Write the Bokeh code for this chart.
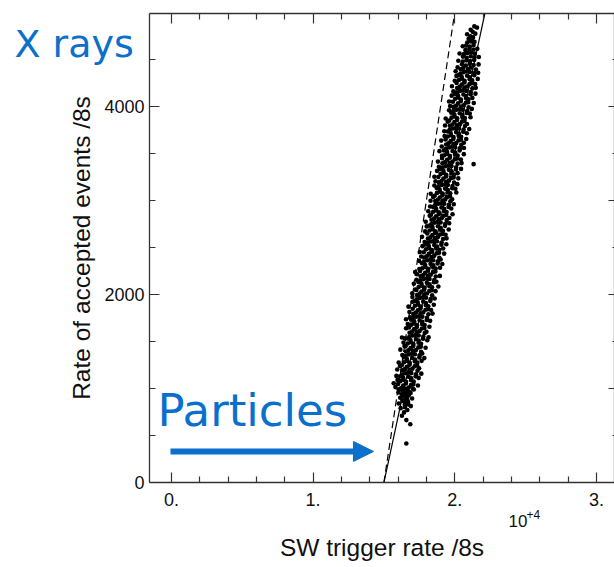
from bokeh.plotting import figure
from bokeh.models import (Range1d, LinearAxis, FixedTicker, Label, Arrow, NormalHead,
                          CustomJSTickFormatter)
from bokeh.embed import file_html
from bokeh.resources import INLINE

# ---------------- data ----------------
# SW trigger rate per 8 s (x) and rate of accepted events per 8 s (y)
sw_rate = [
    16580, 16860, 16580, 16270, 16420, 16650, 16180, 16900, 16470, 16050, 16700, 16300, 16560,
    16990, 16150, 16420, 16750, 16260, 16590, 16880, 16020, 16360, 16520, 16690, 16180, 17050,
    16480, 16720, 16480, 16650, 16600, 16300, 16450, 16780, 16420, 16300,
    16040, 16220, 16550, 16750, 17110, 15810,
    16000, 16360, 16550, 16910, 17080, 17400, 15690,
    16160, 16380, 16560, 16920, 17100, 15960,
    16140, 16350, 16740, 16930, 17240, 17450, 15880,
    16280, 16500, 16720, 16930, 17260, 17640,
    16300, 16480, 16810, 17010, 17370, 15940, 17480,
    16260, 16620, 16810, 17170, 17340, 16130,
    16420, 16640, 16820, 17180, 17360, 16040, 17660,
    16400, 16610, 17000, 17190, 17500, 17850,
    16540, 16760, 16980, 17190, 17520, 16300, 17700,
    16550, 16730, 17060, 17260, 17620, 16160,
    16520, 16880, 17070, 17430, 17600, 17940, 16450,
    16680, 16900, 17080, 17440, 17620, 16380,
    16660, 16870, 17260, 17450, 17760, 18060, 16480,
    16800, 17020, 17240, 17450, 17780, 16270, 18150,
    16810, 16990, 17320, 17520, 17880, 18000,
    16770, 17130, 17320, 17680, 17850, 16560, 18210,
    16930, 17150, 17330, 17690, 17870, 16680,
    16920, 17130, 17520, 17710, 18020, 18260, 16560,
    17060, 17280, 17500, 17710, 18040, 16850,
    17070, 17250, 17580, 17780, 18140, 18430, 16800,
    17030, 17390, 17580, 17940, 18110, 18330,
    17190, 17410, 17590, 17950, 18130, 16730, 18520,
    17170, 17380, 17770, 17960, 18270, 17020,
    17320, 17540, 17760, 17970, 18300, 18580, 17010,
    17330, 17510, 17840, 18040, 18400, 17000,
    17290, 17650, 17840, 18200, 18370, 18640, 17190,
    17450, 17670, 17850, 18210, 18390, 18840,
    17430, 17640, 18030, 18220, 18530, 17110, 18700,
    17570, 17790, 18010, 18220, 18550, 17300,
    17590, 17770, 18100, 18300, 18660, 18950, 17340,
    17550, 17910, 18100, 18460, 18630, 17200,
    17710, 17930, 18110, 18470, 18650, 18960, 17500,
    17690, 17900, 18290, 18480, 18790, 19120,
    17830, 18050, 18270, 18480, 18810, 17480, 19000,
    17840, 18020, 18350, 18550, 18910, 17630,
    17810, 18170, 18360, 18720, 18890, 19250, 17530,
    17970, 18190, 18370, 18730, 18910, 19180,
    17950, 18160, 18550, 18740, 19050, 17720, 19400,
    18090, 18310, 18530, 18740, 19070, 17870,
    18100, 18280, 18610, 18810, 19170, 19420, 17690,
    18060, 18420, 18610, 18970, 19140, 19350,
    18220, 18440, 18620, 18980, 19160, 17910, 19570,
    18210, 18420, 18810, 19000, 19310, 18020,
    18350, 18570, 18790, 19000, 19330, 19610, 17950,
    18360, 18540, 18870, 19070, 19430, 19620,
    18320, 18680, 18870, 19230, 19400, 18230, 19840,
    18480, 18700, 18880, 19240, 19420, 18130,
    18460, 18670, 19060, 19250, 19560, 19750, 18260,
    18610, 18830, 19050, 19260, 19590, 19930,
    18620, 18800, 19130, 19330, 19690, 18290, 19810,
    18580, 18940, 19130, 19490, 19660, 18470,
    18740, 18960, 19140, 19500, 19680, 20110, 18300,
    18720, 18930, 19320, 19510, 19820, 20040,
    18860, 19080, 19300, 19510, 19840, 18560, 20180,
    18880, 19060, 19390, 19590, 19950, 18640,
    18840, 19200, 19390, 19750, 19920, 20250, 18560,
    19000, 19220, 19400, 19760, 19940, 20200,
    18980, 19190, 19580, 19770, 20080, 18750, 20440,
    19120, 19340, 19560, 19770, 20100, 18880, 21330,
    19130, 19310, 19640, 19840, 20200, 20480, 18810,
    19100, 19460, 19650, 20010, 20180, 20430,
    19260, 19480, 19660, 20020, 20200, 19100, 20640,
    19240, 19450, 19840, 20030, 20340, 18920,
    19380, 19600, 19820, 20030, 20360, 20650, 19080,
    19390, 19570, 19900, 20100, 20460, 20640,
    19350, 19710, 19900, 20260, 20430, 19040, 20810,
    19510, 19730, 19910, 20270, 20450, 19280,
    19500, 19710, 20100, 20290, 20600, 20850, 19260,
    19640, 19860, 20080, 20290, 20620, 21020,
    19650, 19830, 20160, 20360, 20720, 19310, 20860,
    19610, 19970, 20160, 20520, 20690, 19500,
    19770, 19990, 20170, 20530, 20710, 21110, 19360,
    19750, 19960, 20350, 20540, 20850, 21060,
    19900, 20120, 20340, 20550, 20880, 19600, 21200,
    19910, 20090, 20420, 20620, 20980, 19670,
    19870, 20230, 20420, 20780, 20950, 21340, 19600,
    20030, 20250, 20430, 20790, 20970, 21240,
    20010, 20220, 20610, 20800, 21110, 19780, 21460,
    20150, 20370, 20590, 20800, 21130, 19900,
    20170, 20350, 20680, 20880, 21240, 21480, 19800,
    20130, 20490, 20680, 21040, 21210, 21440,
    20290, 20510, 20690, 21050, 21230, 20000, 21620,
    20270, 20480, 20870, 21060, 21370, 20120,
    20410, 20630, 20850, 21060, 21390, 21650, 20060,
    20420, 20600, 20930, 21130, 21490, 20200,
    20510, 20780, 21060, 21330, 21680,
    20560, 20830, 21080, 21370, 20250,
    20580, 20840, 21130, 21390, 21700,
    20650, 20890, 21150, 21420, 20340,
    20750, 21020, 21310, 21590,
    20800, 21060, 21330, 20560,
    20880, 21150, 21390, 21220,
    20980, 21290, 21100,
    20870, 21450, 21260, 21120, 21570, 21380,
]
accepted = [
    414, 620, 663, 709, 745, 770, 790, 812, 826, 840, 855, 868, 879,
    893, 901, 912, 925, 934, 942, 951, 958, 966, 973, 981, 989, 995,
    800, 830, 860, 880, 905, 920, 947, 962, 985, 998,
    992, 1005, 997, 1009, 989, 1014,
    1047, 1030, 1052, 1036, 1043, 1031, 1055,
    1078, 1091, 1071, 1086, 1074, 1089,
    1130, 1115, 1124, 1108, 1128, 1112, 1133,
    1148, 1162, 1168, 1163, 1151, 1157,
    1192, 1205, 1197, 1209, 1189, 1201, 1214,
    1247, 1230, 1252, 1236, 1243, 1238,
    1278, 1291, 1271, 1286, 1274, 1275, 1293,
    1330, 1315, 1324, 1308, 1328, 1322,
    1348, 1362, 1368, 1363, 1351, 1356, 1371,
    1392, 1405, 1397, 1409, 1389, 1412,
    1447, 1430, 1452, 1436, 1443, 1433, 1450,
    1478, 1491, 1471, 1486, 1474, 1488,
    1530, 1515, 1524, 1508, 1528, 1512, 1533,
    1548, 1562, 1568, 1563, 1551, 1541, 1544,
    1592, 1605, 1597, 1609, 1589, 1603,
    1647, 1630, 1652, 1636, 1643, 1639, 1655,
    1678, 1691, 1671, 1686, 1674, 1684,
    1730, 1715, 1724, 1708, 1728, 1718, 1735,
    1748, 1762, 1768, 1763, 1751, 1757,
    1792, 1805, 1797, 1809, 1789, 1795, 1811,
    1847, 1830, 1852, 1836, 1843, 1834,
    1878, 1891, 1871, 1886, 1874, 1869, 1890,
    1930, 1915, 1924, 1908, 1928, 1922,
    1948, 1962, 1968, 1963, 1951, 1956, 1972,
    1992, 2005, 1997, 2009, 1989, 2012,
    2047, 2030, 2052, 2036, 2043, 2034, 2051,
    2078, 2091, 2071, 2086, 2074, 2083,
    2130, 2115, 2124, 2108, 2128, 2112, 2133,
    2148, 2162, 2168, 2163, 2151, 2155,
    2192, 2205, 2197, 2209, 2189, 2196, 2213,
    2247, 2230, 2252, 2236, 2243, 2238,
    2278, 2291, 2271, 2286, 2274, 2283, 2269,
    2330, 2315, 2324, 2308, 2328, 2322,
    2348, 2362, 2368, 2363, 2351, 2356, 2371,
    2392, 2405, 2397, 2409, 2389, 2402,
    2447, 2430, 2452, 2436, 2443, 2433, 2450,
    2478, 2491, 2471, 2486, 2474, 2488,
    2530, 2515, 2524, 2508, 2528, 2512, 2533,
    2548, 2562, 2568, 2563, 2551, 2557,
    2592, 2605, 2597, 2609, 2589, 2595, 2611,
    2647, 2630, 2652, 2636, 2643, 2634,
    2678, 2691, 2671, 2686, 2674, 2669, 2690,
    2730, 2715, 2724, 2708, 2728, 2722,
    2748, 2762, 2768, 2763, 2751, 2756, 2772,
    2792, 2805, 2797, 2809, 2789, 2812,
    2847, 2830, 2852, 2836, 2843, 2834, 2851,
    2878, 2891, 2871, 2886, 2874, 2883,
    2930, 2915, 2924, 2908, 2928, 2912, 2933,
    2948, 2962, 2968, 2963, 2951, 2957,
    2992, 3005, 2997, 3009, 2989, 2995, 3011,
    3047, 3030, 3052, 3036, 3043, 3034,
    3078, 3091, 3071, 3086, 3074, 3083, 3069,
    3130, 3115, 3124, 3108, 3128, 3122,
    3148, 3162, 3168, 3163, 3151, 3156, 3171,
    3192, 3205, 3197, 3209, 3189, 3202,
    3247, 3230, 3252, 3236, 3243, 3233, 3250,
    3278, 3291, 3271, 3286, 3274, 3288,
    3330, 3315, 3324, 3308, 3328, 3312, 3333,
    3348, 3362, 3368, 3363, 3351, 3357, 3384,
    3392, 3405, 3397, 3409, 3389, 3395, 3411,
    3447, 3430, 3452, 3436, 3443, 3434,
    3478, 3491, 3471, 3486, 3474, 3472, 3490,
    3530, 3515, 3524, 3508, 3528, 3522,
    3548, 3562, 3568, 3563, 3551, 3556, 3572,
    3592, 3605, 3597, 3609, 3589, 3612,
    3647, 3630, 3652, 3636, 3643, 3634, 3651,
    3678, 3691, 3671, 3686, 3674, 3683,
    3730, 3715, 3724, 3708, 3728, 3712, 3733,
    3748, 3762, 3768, 3763, 3751, 3757,
    3792, 3805, 3797, 3809, 3789, 3795, 3811,
    3847, 3830, 3852, 3836, 3843, 3834,
    3878, 3891, 3871, 3886, 3874, 3883, 3869,
    3930, 3915, 3924, 3908, 3928, 3922,
    3948, 3962, 3968, 3963, 3951, 3956, 3971,
    3992, 4005, 3997, 4009, 3989, 4002,
    4047, 4030, 4052, 4036, 4043, 4033, 4050,
    4078, 4091, 4071, 4086, 4074, 4088,
    4130, 4115, 4124, 4108, 4128, 4112, 4133,
    4148, 4162, 4168, 4163, 4151, 4157,
    4192, 4205, 4197, 4209, 4189, 4195, 4211,
    4247, 4230, 4252, 4236, 4243, 4234,
    4278, 4291, 4271, 4286, 4274, 4269, 4290,
    4330, 4315, 4324, 4308, 4328, 4322,
    4348, 4362, 4368, 4363, 4351, 4356, 4372,
    4392, 4405, 4397, 4409, 4389, 4412,
    4446, 4433, 4450, 4437, 4444,
    4474, 4487, 4479, 4491, 4483,
    4527, 4514, 4531, 4518, 4522,
    4553, 4566, 4571, 4558, 4559,
    4596, 4608, 4603, 4611,
    4644, 4633, 4650, 4637,
    4677, 4688, 4683, 4701,
    4716, 4731, 4742,
    4765, 4771, 4790, 4812, 4835, 4848,
]

# fitted relations: accepted = slope * (sw_rate - threshold)
fit_threshold = 15000
fit_slope_solid = 0.7
fit_slope_dashed = 1.0

# axis extents (data units) and ticks
x_lo, x_hi = -1550, 31240
y_lo, y_hi = 0, 4985
x_major = [0, 10000, 20000, 30000]
x_major_labels = ["0.", "1.", "2.", "3."]
x_minor = [2000, 4000, 6000, 8000, 12000, 14000, 16000, 18000,
           22000, 24000, 26000, 28000]
y_major_left = [0, 2000, 4000]
y_major_right = [0, 1000, 2000, 3000, 4000]
y_minor = [500, 1000, 1500, 2500, 3000, 3500, 4500]
y_minor_right = [500, 1500, 2500, 3500, 4500]

AX = "#333333"
BLUE = "#0A70CC"

# the canvas is all frame: axes are pinned at the plot-box edges
p = figure(width=614, height=567, x_range=Range1d(-12068, 31275),
           y_range=Range1d(-903.5, 5123.2),
           x_axis_type=None, y_axis_type=None, output_backend="svg",
           toolbar_location=None, min_border=0, min_border_left=0, min_border_right=0,
           min_border_top=0, min_border_bottom=0)
p.outline_line_color = None
p.background_fill_color = "white"
p.border_fill_color = "white"
p.xgrid.visible = False
p.ygrid.visible = False


def style(ax, major_in, minor_in):
    ax.axis_line_color = AX
    ax.axis_line_width = 1.3
    ax.major_tick_in = major_in
    ax.major_tick_out = 0
    ax.minor_tick_in = minor_in
    ax.minor_tick_out = 0
    ax.major_tick_line_color = AX
    ax.minor_tick_line_color = AX
    ax.major_tick_line_width = 1.2
    ax.minor_tick_line_width = 1.2
    ax.major_label_text_font = "Liberation Sans"
    ax.major_label_text_font_size = "18px"
    ax.major_label_text_color = "#111111"
    ax.axis_label_text_font = "Liberation Sans"
    ax.axis_label_text_font_size = "24.5px"
    ax.axis_label_text_font_style = "normal"
    ax.axis_label_text_color = "#111111"


def blank(ax):
    ax.formatter = CustomJSTickFormatter(code="return ''")
    ax.major_label_text_font_size = "1px"
    ax.major_label_standoff = 0


xb = LinearAxis(ticker=FixedTicker(ticks=x_major, minor_ticks=x_minor),
                axis_label="SW trigger rate /8s", fixed_location=y_lo, bounds=(x_lo, x_hi))
style(xb, 10, 6)
xb.major_label_overrides = {t: s for t, s in zip(x_major, x_major_labels)}
xb.major_label_standoff = 11
xb.axis_label_standoff = 24
p.add_layout(xb, "below")

xt = LinearAxis(ticker=FixedTicker(ticks=x_major, minor_ticks=x_minor),
                fixed_location=y_hi, bounds=(x_lo, x_hi))
style(xt, 10, 6)
blank(xt)
p.add_layout(xt, "above")

yl = LinearAxis(ticker=FixedTicker(ticks=y_major_left, minor_ticks=y_minor),
                axis_label="Rate of accepted events /8s", fixed_location=x_lo,
                bounds=(y_lo, y_hi))
style(yl, 10, 6)
yl.major_label_standoff = 5
yl.axis_label_standoff = 6
p.add_layout(yl, "left")

yr = LinearAxis(ticker=FixedTicker(ticks=y_major_right, minor_ticks=y_minor_right),
                fixed_location=x_hi, bounds=(y_lo, y_hi))
style(yr, 6, 2)
blank(yr)
p.add_layout(yr, "right")

# scatter of measured rates
p.scatter(sw_rate, accepted, size=4.6, color="black", line_width=0)

# fitted lines, drawn up to the top of the plot box
fit_y = [y_lo, y_hi]
x_solid = [fit_threshold + yy / fit_slope_solid for yy in fit_y]
x_dash = [fit_threshold + yy / fit_slope_dashed for yy in fit_y]
p.line(x_solid, fit_y, line_color="black", line_width=1.2)
p.line(x_dash, fit_y, line_color="black", line_width=1.2, line_dash="7 4")

# annotations
p.add_layout(Label(x=-11080, y=4666, text="X rays", text_font="DejaVu Sans",
                   text_font_size="38px", text_color=BLUE, text_baseline="alphabetic"))
p.add_layout(Label(x=-985, y=765, text="Particles", text_font="DejaVu Sans",
                   text_font_size="45px", text_color=BLUE, text_baseline="alphabetic"))
p.add_layout(Arrow(x_start=-68, y_start=330, x_end=14262, y_end=330, line_color=BLUE,
                   line_width=6,
                   end=NormalHead(size=20, fill_color=BLUE, line_color=BLUE, line_width=1)))
p.add_layout(Label(x=23793, y=-404, text="10", text_font="Liberation Sans",
                   text_font_size="17px", text_color="#111111", text_baseline="alphabetic"))
p.add_layout(Label(x=25063, y=-340, text="+4", text_font="Liberation Sans",
                   text_font_size="12px", text_color="#111111", text_baseline="alphabetic"))

open("out.html", "w").write(file_html(p, INLINE))
